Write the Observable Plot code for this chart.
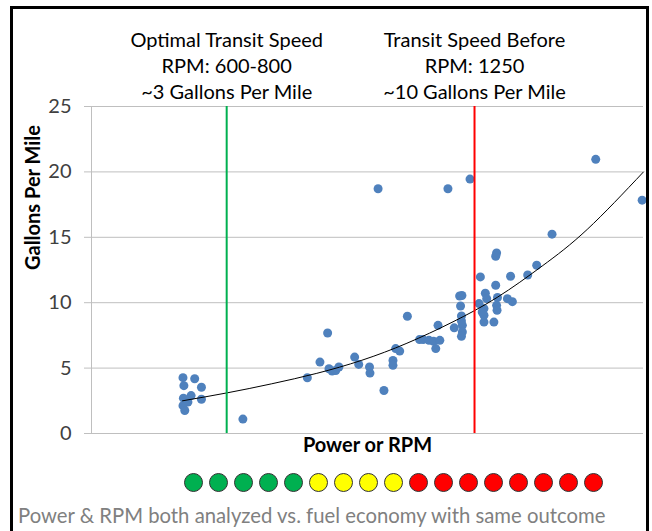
<!DOCTYPE html>
<html><head><meta charset="utf-8">
<script src="https://cdn.jsdelivr.net/npm/d3@7"></script>
<script src="https://cdn.jsdelivr.net/npm/@observablehq/plot@0.6"></script>
<style>
html,body{margin:0;padding:0;background:#fff}
body{width:652px;height:531px;overflow:hidden;position:relative;font-family:Lato,sans-serif}
#frame{position:absolute;left:10px;top:6px;width:633px;height:600px;border:3px solid #000;z-index:5;pointer-events:none}
#chart{position:absolute;left:0;top:0}
#row{position:absolute;left:0;top:467px}
#caption{position:absolute;left:18px;top:503px;font-size:20.3px;line-height:24px;color:#808080;white-space:nowrap}
</style></head><body>
<div id="frame"></div><div id="chart"></div><div id="row"></div><div id="caption"></div>
<script>
// ---- data ----
const rpm = [603,629,605,644,621,604,644,614,603,607,736,
  879,907,924,927,934,942,949,984,993,1017,1018,1049,1069,1069,1075,1084,1101,1036,
  1128,1136,1149,1159,1173,1164,1169,1191,1205,1217,1222,1219,1221,1221,1223,1223,1221,1240,
  1260,1267,1271,1263,1274,1277,1271,1271,1293,1297,1299,1297,1299,1300,1301,1330,1323,1334,
  1368,1388,1422,1519,1622];
const gallonsPerMile = [4.27,4.19,3.66,3.54,2.90,2.70,2.62,2.40,2.13,1.76,1.10,
  4.26,5.46,7.68,4.95,4.77,4.82,5.08,5.84,5.28,5.08,4.62,3.29,5.59,5.21,6.49,6.30,8.96,18.71,
  7.18,7.18,7.12,7.05,7.12,6.49,8.27,18.71,8.08,10.51,10.55,9.75,8.98,8.60,8.27,7.76,7.43,19.45,
  9.93,9.29,8.52,11.97,10.72,10.31,9.55,9.04,8.52,11.33,13.80,13.55,9.80,9.42,10.40,12.02,10.31,10.08,
  12.12,12.86,15.24,20.96,17.84];
const trendRpm = [602,700,800,900,1000,1100,1200,1300,1400,1500,1625];
const trendGpm = [2.5,3.1,3.8,4.6,5.6,6.9,8.5,10.4,12.8,15.6,20.0];
const markerRpm = [700, 1250];
const markerNotes = [
  "Optimal Transit Speed\nRPM: 600-800\n~3 Gallons Per Mile",
  "Transit Speed Before\nRPM: 1250\n~10 Gallons Per Mile"
];
const yTicks = [0,5,10,15,20,25];
const xDomain = [400, 1625];
const rowColors = ["#00B050","#00B050","#00B050","#00B050","#00B050",
  "#FFFF00","#FFFF00","#FFFF00","#FFFF00",
  "#FF0000","#FF0000","#FF0000","#FF0000","#FF0000","#FF0000","#FF0000","#FF0000"];
const captionText = "Power & RPM both analyzed vs. fuel economy with same outcome";
const yLabel = "Gallons Per Mile";
const xLabel = "Power or RPM";

// ---- tables built from the arrays ----
const points = rpm.map((x, i) => ({x, y: gallonsPerMile[i]}));
const trend = trendRpm.map((x, i) => ({x, y: trendGpm[i]}));
const notes = markerRpm.map((x, i) => ({x, text: markerNotes[i]}));

const chart = Plot.plot({
  width: 652, height: 465,
  marginTop: 106, marginBottom: 32, marginLeft: 91, marginRight: 9,
  style: {fontFamily: "Lato, sans-serif", fontSize: "20px", background: "transparent", color: "#000"},
  x: {domain: xDomain, axis: null},
  y: {domain: [0, 25], axis: null},
  color: {type: "identity"},
  marks: [
    Plot.gridY(yTicks, {stroke: "#bfbfbf", strokeOpacity: 1}),
    Plot.ruleX([xDomain[0]], {stroke: "#bfbfbf"}),
    Plot.axisY(yTicks, {tickSize: 7, tickPadding: 13, stroke: "#bfbfbf", strokeOpacity: 1, fill: "#404040", fontSize: 20, label: null}),
    Plot.dot(points, {x: "x", y: "y", r: 4.5, fill: "#4F81BD"}),
    Plot.line(trend, {x: "x", y: "y", stroke: "#000", strokeWidth: 1, curve: "natural"}),
    Plot.ruleX(markerRpm, {x: d => d, stroke: (d, i) => i === 0 ? "#00B050" : "#FF0000", strokeWidth: 2}),
    Plot.text(notes, {x: "x", text: "text", frameAnchor: "top", lineAnchor: "top", dy: -78, fontSize: 20, lineHeight: 1.3, fill: "#000"}),
    Plot.text([yLabel], {frameAnchor: "left", dx: -58, rotate: -90, fontWeight: "bold", fontSize: 20, fill: "#000"}),
    Plot.text([xLabel], {frameAnchor: "bottom", dy: 18, fontWeight: "bold", fontSize: 20, fill: "#000"})
  ]
});
document.getElementById("chart").appendChild(chart);

const row = Plot.plot({
  width: 652, height: 30, margin: 0,
  style: {background: "transparent"},
  x: {type: "point", domain: d3.range(rowColors.length), range: [178.3, 606.7], axis: null},
  color: {type: "identity"},
  marks: [
    Plot.dot(rowColors, {x: (d, i) => i, r: 9, fill: d => d, stroke: "#333", strokeWidth: 1})
  ]
});
document.getElementById("row").appendChild(row);
document.getElementById("caption").textContent = captionText;
</script></body></html>
